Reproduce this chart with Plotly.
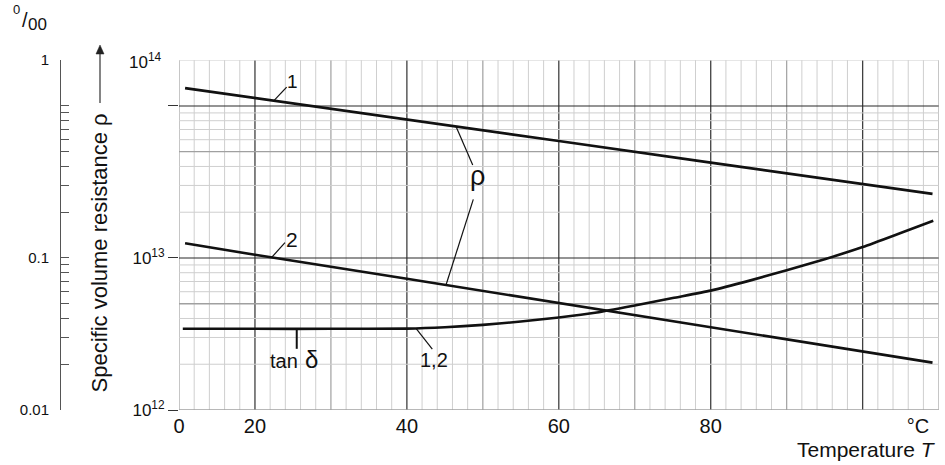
import numpy as np
import plotly.graph_objects as go

# Temperature scale (deg C)
T_rho = [10.8, 20, 40, 60, 80, 100, 109.2]
# Specific volume resistance, curves 1 and 2 (Ohm*cm)
rho_1 = [1.31e14, 1.13e14, 8.15e13, 5.88e13, 4.24e13, 3.06e13, 2.64e13]
rho_2 = [1.25e13, 1.05e13, 7.3e12, 5.06e12, 3.50e12, 2.42e12, 2.05e12]

# Dissipation factor tan delta for curves 1,2 (per mille)
T_tan = [10.5, 20, 30, 40, 45, 50, 55, 60, 65, 70, 75, 80, 85, 90, 95, 100, 105, 109.3]
tan_d = [0.0342, 0.0342, 0.0342, 0.0343, 0.0350, 0.0363, 0.0382, 0.0406, 0.0438,
         0.0487, 0.0545, 0.0610, 0.0707, 0.0831, 0.0981, 0.118, 0.146, 0.176]

x_tickvals = [10, 20, 40, 60, 80, 107.3]
x_ticktext = ["0", "20", "40", "60", "80", "°C"]

W, H = 945, 465
FONT = "Liberation Sans, Arial, sans-serif"
PLOT_L, PLOT_R, PLOT_T, PLOT_B = 179, 938.6, 60.2, 410
X_RANGE = [10, 110]
X_DOM = [PLOT_L / W, PLOT_R / W]
Y_DOM = [1 - PLOT_B / H, 1 - PLOT_T / H]
RHO_RANGE = [12, np.log10(2e14)]
TAN_RANGE = [-2, np.log10(2)]

LIGHT, MEDIUM, DARK = "#cfcfcf", "#a0a0a0", "#2a2a2a"

# scale factors: data units per screen pixel
X_PER_PX = (X_RANGE[1] - X_RANGE[0]) / (PLOT_R - PLOT_L)
LOG_PER_PX = (RHO_RANGE[1] - RHO_RANGE[0]) / (PLOT_B - PLOT_T)


def px(x):
    return x / W


def py(y):
    return 1 - y / H


fig = go.Figure()

line_style = dict(color="#111111", width=2.6)
fig.add_trace(go.Scatter(x=T_rho, y=rho_1, mode="lines", line=line_style,
                         xaxis="x", yaxis="y", hoverinfo="skip"))
fig.add_trace(go.Scatter(x=T_rho, y=rho_2, mode="lines", line=line_style,
                         xaxis="x", yaxis="y", hoverinfo="skip"))
fig.add_trace(go.Scatter(x=T_tan, y=tan_d, mode="lines",
                         line=dict(color="#111111", width=2.6, shape="spline", smoothing=0.6),
                         xaxis="x", yaxis="y2", hoverinfo="skip"))

shapes = []
# vertical grid: every 2 light, every 10 medium, every 20 dark
for level in ("light", "medium", "dark"):
    for t in range(10, 111, 2):
        kind = "dark" if t % 20 == 0 else ("medium" if t % 10 == 0 else "light")
        if kind != level:
            continue
        col, w = {"light": (LIGHT, 1), "medium": (MEDIUM, 1.2), "dark": ("#404040", 1.3)}[kind]
        shapes.append(dict(type="line", xref="x", yref="y domain", x0=t, x1=t, y0=0, y1=1,
                           line=dict(color=col, width=w), layer="below"))

# horizontal grid on the log resistance scale
h_levels = []
for dec in (1e12, 1e13):
    for m in range(1, 10):
        v = m * dec
        if m == 1:
            kind = "medium" if dec == 1e12 else "dark"
        elif m == 5:
            kind = "medium"
        else:
            kind = "light"
        h_levels.append((v, kind))
h_levels += [(1e14, "dark"), (2e14, "light")]
for level in ("light", "medium", "dark"):
    for v, kind in h_levels:
        if kind != level:
            continue
        col, w = {"light": (LIGHT, 1), "medium": (MEDIUM, 1.3), "dark": (DARK, 1.1)}[kind]
        shapes.append(dict(type="line", xref="x domain", yref="y", x0=0, x1=1, y0=v, y1=v,
                           line=dict(color=col, width=w), layer="below"))


def leader(xs, ys, t, dx, dy, yref="y", width=1.2):
    """Leader line from the curve point at t, reaching dx, dy screen pixels away (dy down)."""
    log_y = float(np.interp(t, xs, np.log10(ys)))
    shapes.append(dict(type="line", xref="x", yref=yref,
                       x0=t, y0=10 ** log_y,
                       x1=t + dx * X_PER_PX, y1=10 ** (log_y - dy * LOG_PER_PX),
                       line=dict(color="#111111", width=width)))


annotations = []
txt = dict(family=FONT, color="#111111")


def label(text, x, y, size, xanchor="center"):
    annotations.append(dict(text=text, xref="paper", yref="paper", x=px(x), y=py(y),
                            xanchor=xanchor, yanchor="middle", showarrow=False,
                            font=dict(size=size, **txt)))


# curve labels and leaders
leader(T_rho, rho_1, 22.5, 12.7, -13.4)
label("1", 292.2, 81.7, 19)
leader(T_rho, rho_2, 22.2, 13.3, -14.7)
label("2", 292, 239.7, 21)
leader(T_rho, rho_1, 46.47, 16.7, 38.5)
leader(T_rho, rho_2, 45.15, 27.3, -85.6)
label("ρ", 477.3, 176.3, 27)
leader(T_tan, tan_d, 25.5, 0, 20, yref="y2", width=2)
label("tan", 284, 361.1, 20)
label("δ", 311, 359.7, 24)
leader(T_tan, tan_d, 41.2, 16.3, 20.7, yref="y2")
label("1,2", 434, 360.2, 20)

# axis titles and units
label("Temperature <i>T</i>", 938, 449.4, 21, xanchor="right")
annotations.append(dict(text="Specific volume resistance ρ", xref="paper", yref="paper",
                        x=px(98.5), y=py(253), textangle=-90, showarrow=False,
                        xanchor="center", yanchor="middle", font=dict(size=22, **txt)))
# upward arrow beside the axis title
shapes.append(dict(type="line", xref="paper", yref="paper", x0=px(100), x1=px(100),
                   y0=py(103), y1=py(52), line=dict(color="#333333", width=1.2)))
shapes.append(dict(type="path", xref="paper", yref="paper", xsizemode="pixel",
                   ysizemode="pixel", xanchor=px(100), yanchor=py(45),
                   path="M0,0 L-4,-9 L4,-9 Z", fillcolor="#222222",
                   line=dict(color="#222222", width=0.5)))
label("10<sup>14</sup>", 164, 61, 17, xanchor="right")
label("0", 16.5, 9, 13)
label("/", 24.5, 19.5, 20)
label("00", 37.5, 24, 17)

# per-mille scale: labelled ticks plus unlabelled intermediate ticks
tan_major = [0.01, 0.1, 2]
tan_major_text = ["0.01", "0.1", "1"]
tan_minor = [m * 10.0 ** e for e in (-2, -1) for m in range(2, 10)] + [1]

fig.update_layout(
    width=W, height=H, autosize=False,
    margin=dict(l=0, r=0, t=0, b=0, autoexpand=False),
    paper_bgcolor="white", plot_bgcolor="white",
    showlegend=False,
    font=dict(family=FONT, color="#111111"),
    xaxis=dict(domain=X_DOM, range=X_RANGE, showgrid=False, zeroline=False,
               showline=False, ticks="", tickvals=x_tickvals, ticktext=x_ticktext,
               tickfont=dict(size=20), ticklabelstandoff=2, anchor="y",
               automargin=False, fixedrange=True),
    yaxis=dict(domain=Y_DOM, type="log", range=RHO_RANGE, showgrid=False, zeroline=False,
               showline=False, ticks="outside", ticklen=10, tickwidth=1, tickcolor="#333333",
               tickvals=[1e12, 1e13],
               ticktext=["10<sup>12</sup>", "10<sup>13</sup>"],
               minor=dict(tickvals=[1e14], ticks="outside", ticklen=10, tickwidth=1,
                          tickcolor="#333333", showgrid=False),
               tickfont=dict(size=17), anchor="x", automargin=False, fixedrange=True),
    yaxis2=dict(type="log", range=TAN_RANGE, overlaying="y", anchor="free",
                position=60 / W, side="left", showgrid=False, zeroline=False,
                showline=True, linecolor="#555555", linewidth=1,
                ticks="inside", ticklen=8, tickwidth=1, tickcolor="#555555",
                tickvals=tan_major, ticktext=tan_major_text,
                minor=dict(tickvals=tan_minor, ticks="inside", ticklen=8, tickwidth=1,
                           tickcolor="#555555", showgrid=False),
                tickfont=dict(size=15),
                ticklabelstandoff=8, automargin=False, fixedrange=True),
    shapes=shapes,
    annotations=annotations,
)

fig.write_html("out.html")
